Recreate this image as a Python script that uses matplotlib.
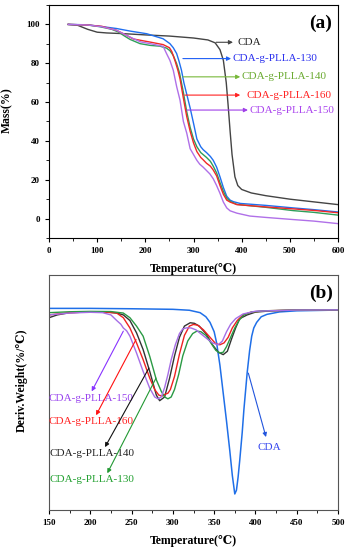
import matplotlib
matplotlib.use('Agg')
import matplotlib.pyplot as plt
from matplotlib.ticker import MultipleLocator

plt.rcParams['font.family'] = ['Liberation Serif', 'DejaVu Serif', 'DejaVu Sans']

# === TGA data (panel a) ===
t_cda = [40, 60, 80, 100, 120, 150, 200, 250, 300, 330, 345, 355, 362, 368, 372, 376, 380, 386, 392, 400, 420, 450, 500, 550, 600]
m_cda = [100, 99.5, 97.5, 96, 95.6, 95.3, 94.6, 94.0, 93.0, 92.0, 90.5, 87, 81.5, 70, 58, 45, 33, 21.5, 17, 15, 13.2, 11.8, 10, 8.6, 7.2]

t_130 = [40, 80, 106, 140, 170, 203, 237, 251, 258, 265, 270, 275, 280, 286, 293, 301, 307, 315, 320, 327, 335, 341, 348, 355, 362, 369, 376, 383, 397, 450, 507, 550, 600]
m_130 = [100, 99.8, 99, 97.9, 96.5, 95.2, 92.6, 90.1, 88, 85, 81, 76.4, 70, 64, 57, 48, 41, 37, 35.5, 34, 32, 30, 26.5, 21.5, 16, 11.5, 9.5, 8.7, 7.8, 6.8, 5.5, 4.6, 3.4]

t_140 = [40, 80, 106, 130, 145, 155, 168, 189, 210, 230, 244, 251, 258, 265, 271, 279, 286, 293, 300, 307, 315, 327, 335, 341, 348, 355, 362, 369, 376, 390, 450, 507, 550, 600]
m_140 = [100, 99.7, 98.8, 97.5, 96, 94.3, 92.3, 90.1, 89.2, 88.8, 87.8, 86.5, 84, 79.8, 75, 65, 55, 47, 41, 37, 34, 31.5, 29.5, 27, 23.5, 18.5, 14, 10.5, 8.9, 7.3, 5.8, 4.1, 3.2, 1.8]

t_160 = [40, 80, 110, 140, 160, 175, 210, 237, 250, 255, 262, 268, 272, 279, 286, 293, 300, 307, 315, 320, 327, 335, 341, 348, 355, 362, 369, 376, 390, 450, 507, 550, 600]
m_160 = [100, 99.7, 99, 97, 94.5, 92.5, 90.9, 89.6, 88, 86, 81, 76, 72, 62, 52.5, 45, 39, 34.5, 31.5, 30.3, 28.5, 27, 25, 22, 17, 12.5, 9.5, 8.5, 7.2, 6.0, 5.0, 4.2, 3.0]

t_150 = [40, 80, 110, 140, 168, 190, 210, 237, 244, 251, 258, 265, 272, 279, 286, 293, 300, 307, 313, 320, 334, 341, 348, 355, 362, 369, 376, 390, 417, 450, 507, 550, 600]
m_150 = [100, 99.7, 98.8, 97, 93.5, 91, 90.1, 88.7, 85, 81.5, 76.4, 68, 61, 50, 44, 36, 33, 30, 28, 26.5, 23, 20.5, 17, 13, 8.5, 5.5, 4.0, 2.8, 1.3, 0.6, -0.5, -1.3, -2.6]

# === DTG data (panel b) ===
d_t_cda = [150, 200, 250, 300, 320, 333, 340, 345, 350, 353, 357, 361, 365, 369, 372, 375, 377, 379, 381, 384, 386, 388, 390, 393, 395.5, 398, 401.5, 407, 414, 429, 450, 500]
d_v_cda = [0.005, 0.005, 0.003, 0.0, -0.005, -0.018, -0.04, -0.07, -0.12, -0.18, -0.3, -0.45, -0.6, -0.76, -0.89, -0.99, -0.97, -0.9, -0.81, -0.66, -0.54, -0.44, -0.34, -0.22, -0.144, -0.1, -0.07, -0.04, -0.027, -0.014, -0.008, -0.004]

d_t_140 = [150, 160, 175, 200, 220, 232, 240, 248, 256, 264, 272, 280, 284, 290, 296, 302, 308, 314, 321, 326, 332, 340, 348, 355, 361, 366, 371, 376, 381, 390, 400, 420, 450, 500]
d_v_140 = [-0.045, -0.03, -0.018, -0.014, -0.014, -0.02, -0.03, -0.06, -0.126, -0.216, -0.333, -0.46, -0.49, -0.47, -0.37, -0.25, -0.15, -0.09, -0.072, -0.075, -0.09, -0.13, -0.19, -0.23, -0.243, -0.225, -0.16, -0.1, -0.05, -0.03, -0.015, -0.008, -0.004, -0.003]

d_t_160 = [150, 175, 200, 220, 232, 240, 248, 256, 264, 272, 278, 283, 287, 291, 294, 297, 302, 308, 314, 320, 325, 330, 337, 345, 352, 357, 362, 367, 372, 378, 385, 395, 410, 450, 500]
d_v_160 = [-0.03, -0.018, -0.014, -0.016, -0.02, -0.045, -0.1, -0.18, -0.27, -0.369, -0.43, -0.46, -0.465, -0.455, -0.45, -0.43, -0.36, -0.24, -0.14, -0.09, -0.081, -0.085, -0.11, -0.15, -0.185, -0.19, -0.18, -0.15, -0.1, -0.06, -0.03, -0.015, -0.008, -0.004, -0.003]

d_t_150 = [150, 175, 200, 215, 225, 232, 237, 240, 244, 248, 256, 264, 272, 278, 282, 286, 290, 294, 298, 303, 308, 312, 317, 322, 328, 335, 342, 348, 355, 360, 365, 370, 376, 385, 400, 450, 500]
d_v_150 = [-0.03, -0.02, -0.016, -0.018, -0.03, -0.06, -0.08, -0.1, -0.115, -0.144, -0.234, -0.333, -0.423, -0.47, -0.48, -0.47, -0.42, -0.35, -0.27, -0.19, -0.13, -0.105, -0.099, -0.1, -0.11, -0.135, -0.16, -0.18, -0.19, -0.17, -0.12, -0.08, -0.05, -0.025, -0.01, -0.004, -0.003]

d_t_130 = [150, 175, 200, 225, 240, 248, 256, 264, 272, 280, 286, 290, 294, 298, 302, 307, 312, 318, 324, 329, 334, 340, 346, 352, 357, 361, 365, 370, 375, 380, 386, 395, 410, 450, 500]
d_v_130 = [-0.018, -0.013, -0.011, -0.012, -0.02, -0.045, -0.09, -0.144, -0.252, -0.378, -0.44, -0.47, -0.48, -0.47, -0.43, -0.35, -0.25, -0.17, -0.13, -0.117, -0.12, -0.14, -0.18, -0.22, -0.234, -0.23, -0.2, -0.15, -0.1, -0.06, -0.03, -0.015, -0.008, -0.004, -0.003]

fig = plt.figure(figsize=(3.48, 5.5), dpi=100)

# === panel (a) ===
ax1 = fig.add_axes([49/348, 1 - 238/550, 289/348, 233/550])
ax1.plot(t_cda, m_cda, color='#444444', lw=1.0)
ax1.plot(t_130, m_130, color='#1f6ff0', lw=1.0)
ax1.plot(t_140, m_140, color='#2e9e5a', lw=1.0)
ax1.plot(t_160, m_160, color='#f02828', lw=1.0)
ax1.plot(t_150, m_150, color='#b070e8', lw=1.0)
ax1.set_xlim(0, 600)
ax1.set_ylim(-10, 110)
ax1.xaxis.set_major_locator(MultipleLocator(100))
ax1.xaxis.set_minor_locator(MultipleLocator(50))
ax1.yaxis.set_major_locator(MultipleLocator(20))
ax1.yaxis.set_minor_locator(MultipleLocator(10))
ax1.tick_params(which='major', direction='out', length=3, width=0.8, labelsize=6.5)
ax1.tick_params(which='minor', direction='out', length=2, width=0.6)
for lab in ax1.get_xticklabels() + ax1.get_yticklabels():
    lab.set_fontweight('bold')
ax1.set_xlabel('Temperature(℃)', fontsize=8.5, fontweight='bold', labelpad=6)
ax1.set_ylabel('Mass(%)', fontsize=8.5, fontweight='bold')
ax1.yaxis.set_label_coords(-0.125, 0.55)
ax1.text(0.94, 0.92, '(a)', transform=ax1.transAxes, fontsize=14, fontweight='bold', ha='center', va='center')

ann_a = [
    ('CDA', '#222222', '#444444', 347, 90.8, 382, 392),
    ('CDA-g-PLLA-130', '#2a30ee', '#1f5ff5', 278, 82.4, 378, 382),
    ('CDA-g-PLLA-140', '#6aaa30', '#78b83a', 278, 73.0, 397, 400),
    ('CDA-g-PLLA-160', '#ff2222', '#ff2222', 282, 63.6, 397, 409),
    ('CDA-g-PLLA-150', '#aa44ee', '#a040e8', 286, 55.9, 413, 416),
]
for txt, tc, ac, x0, y0, x1, xt in ann_a:
    ax1.annotate('', xy=(x1, y0), xytext=(x0, y0),
                 arrowprops=dict(arrowstyle='-|>', color=ac, lw=0.8, mutation_scale=6, shrinkA=0, shrinkB=0))
    ax1.text(xt, y0, txt, color=tc, fontsize=8, ha='left', va='center')

# === panel (b) ===
ax2 = fig.add_axes([49/348, 1 - 510/550, 289/348, 235/550])
ax2.plot(d_t_cda, d_v_cda, color='#1f6fe8', lw=1.1)
ax2.plot(d_t_140, d_v_140, color='#333333', lw=1.0)
ax2.plot(d_t_160, d_v_160, color='#ee2222', lw=1.0)
ax2.plot(d_t_130, d_v_130, color='#2a9a44', lw=1.0)
ax2.plot(d_t_150, d_v_150, color='#a66ee6', lw=1.0)
ax2.set_xlim(150, 500)
ax2.set_ylim(-1.076, 0.184)
ax2.xaxis.set_major_locator(MultipleLocator(50))
ax2.xaxis.set_minor_locator(MultipleLocator(25))
ax2.set_yticks([])
ax2.tick_params(which='major', direction='out', length=3, width=0.8, labelsize=6.5)
ax2.tick_params(which='minor', direction='out', length=2, width=0.6)
for lab in ax2.get_xticklabels():
    lab.set_fontweight('bold')
for sp in ax2.spines.values():
    sp.set_color('#555555')
ax2.set_xlabel('Temperature(℃)', fontsize=8.5, fontweight='bold', labelpad=6)
ax2.set_ylabel('Deriv.Weight(%/℃)', fontsize=8.5, fontweight='bold')
ax2.yaxis.set_label_coords(-0.075, 0.55)
ax2.text(0.94, 0.92, '(b)', transform=ax2.transAxes, fontsize=14, fontweight='bold', ha='center', va='center')

ann_b = [
    ('CDA-g-PLLA-150', '#9944ee', '#8833ff', 240, -0.117, 201.7, -0.44, 149.5, -0.478, 'left'),
    ('CDA-g-PLLA-160', '#ff2222', '#ff1111', 255.4, -0.162, 207, -0.568, 149.5, -0.604, 'left'),
    ('CDA-g-PLLA-140', '#222222', '#111111', 271, -0.315, 217.8, -0.739, 150, -0.771, 'left'),
    ('CDA-g-PLLA-130', '#22a030', '#229933', 279.6, -0.369, 220.6, -0.879, 150, -0.915, 'left'),
    ('CDA', '#3344ee', '#2255dd', 391.4, -0.342, 412.8, -0.685, 417, -0.739, 'center'),
]
for txt, tc, ac, x0, y0, x1, y1, xt, yt, ha in ann_b:
    ax2.annotate('', xy=(x1, y1), xytext=(x0, y0),
                 arrowprops=dict(arrowstyle='-|>', color=ac, lw=0.8, mutation_scale=6, shrinkA=0, shrinkB=0))
    ax2.text(xt, yt, txt, color=tc, fontsize=8, ha=ha, va='center')

fig.savefig('out.png', dpi=100)
